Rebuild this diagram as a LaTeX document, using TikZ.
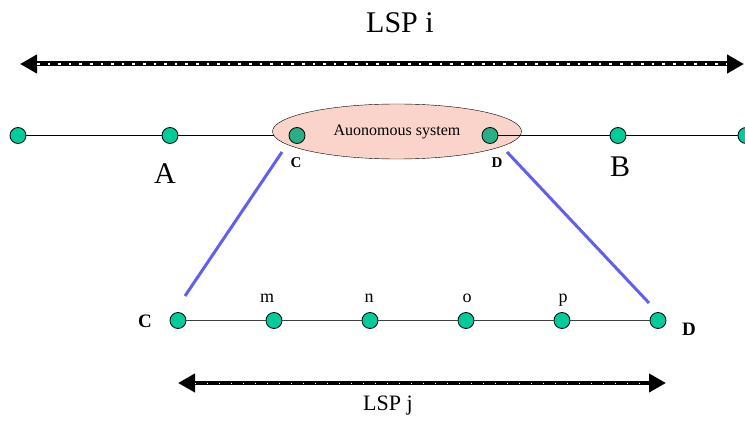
\documentclass[tikz,border=0pt]{standalone}
\usepackage{fontspec}
\setmainfont{Liberation Serif}
\usetikzlibrary{arrows.meta, shapes.geometric, backgrounds}
\definecolor{hop}{RGB}{0, 204, 153}
\definecolor{border}{RGB}{42, 174, 134}
\definecolor{cloud}{RGB}{250, 212, 202}
\definecolor{tunnel}{RGB}{96, 96, 240}
\definecolor{wire}{RGB}{64, 64, 64}

\tikzset{
  hop/.style={circle, draw=black, fill=hop, minimum size=16pt, inner sep=0pt, line width=0.8pt},
  lsp/.style={line width=#1, {Triangle[length=17pt, width=18pt]}-{Triangle[length=17pt, width=18pt]}},
  dots/.style={white, shorten <=17pt, shorten >=17pt}
}

\begin{document}
\begin{tikzpicture}[x=1pt, y=-1pt]

  \useasboundingbox (0, 0) rectangle (745, 422);

  % outer path
  \coordinate (il) at (20, 64);
  \coordinate (ir) at (744, 64);
  \draw[lsp=5pt] (il) -- (ir);
  \draw[dots, line width=1.6pt, dash pattern=on 2.6pt off 8pt] (il) -- (ir);
  \node[anchor=base, font=\fontsize{30}{36}\selectfont] (lspi) at (400, 33) {LSP i};

  \node[ellipse, draw=black, fill=cloud, minimum width=249pt, minimum height=55pt,
    inner sep=0pt, font=\fontsize{16}{19}\selectfont] (as) at (397, 131.5) {Auonomous system};

  \node[hop] (h1) at (18, 135.5) {};
  \node[hop] (ha) at (170, 135.5) {};
  \node[hop, fill=border] (hc) at (297, 135.5) {};
  \node[hop, fill=border] (hd) at (490, 135.5) {};
  \node[hop] (hb) at (618, 135.5) {};
  \node[hop] (h6) at (746, 135.5) {};

  \begin{scope}[on background layer]
    \draw[line width=1pt] (h1) -- (ha) -- (hc);
  \end{scope}
  \draw[line width=1pt] (hd) -- (hb) -- (h6);

  \node[anchor=base, font=\fontsize{30}{36}\selectfont] (la) at (165, 184) {A};
  \node[anchor=base, font=\fontsize{30}{36}\selectfont] (lb) at (620, 177) {B};
  \node[anchor=base, font=\bfseries\fontsize{15}{18}\selectfont] (lc) at (296, 168) {C};
  \node[anchor=base, font=\bfseries\fontsize{15}{18}\selectfont] (ld) at (497, 168) {D};

  % inner path
  \foreach \x [count=\i] in {178, 274, 370, 466, 562, 658} {
    \node[hop] (s\i) at (\x, 320.5) {};
  }
  \draw[wire, line width=1.5pt] (s1) -- (s2) -- (s3) -- (s4) -- (s5) -- (s6);

  \foreach \t/\x in {m/267, n/369, o/467, p/563} {
    \node[anchor=base, font=\fontsize{18}{22}\selectfont] (l\t) at (\x, 303) {\t};
  }
  \node[anchor=base, font=\bfseries\fontsize{19}{23}\selectfont] (lsc) at (145, 328) {C};
  \node[anchor=base, font=\bfseries\fontsize{19}{23}\selectfont] (lsd) at (689, 335) {D};

  \coordinate (zc) at (282, 152);
  \coordinate (zd) at (507, 152);
  \coordinate (zc') at (185, 296);
  \coordinate (zd') at (649, 303);
  \draw[tunnel, line width=3pt] (zc) -- (zc');
  \draw[tunnel, line width=3pt] (zd) -- (zd');

  \coordinate (jl) at (178, 383);
  \coordinate (jr) at (666, 383);
  \draw[lsp=4pt] (jl) -- (jr);
  \draw[dots, line width=0.8pt, dash pattern=on 1pt off 11pt, yshift=-1.2pt] (jl) -- (jr);
  \node[anchor=base, font=\fontsize{22}{26}\selectfont] (lspj) at (388, 410) {LSP j};

\end{tikzpicture}
\end{document}
